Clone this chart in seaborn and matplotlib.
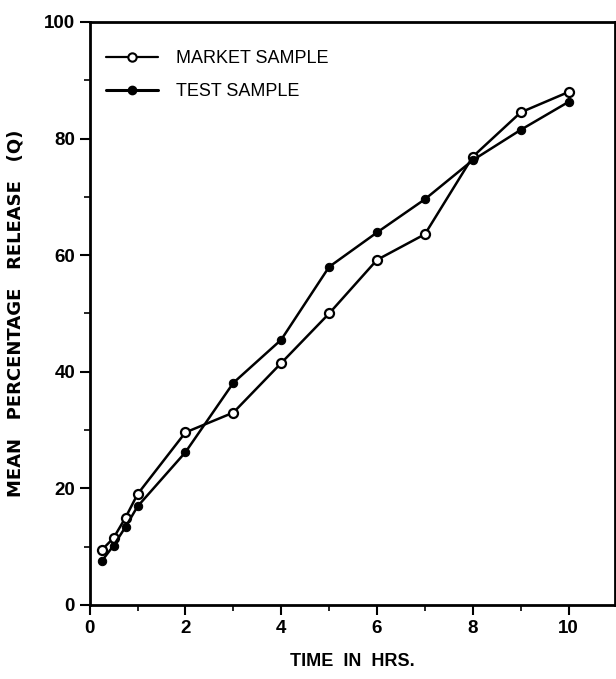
import numpy as np
import pandas as pd
import matplotlib
matplotlib.use("Agg")
import matplotlib.pyplot as plt
from matplotlib.lines import Line2D
from matplotlib.ticker import MultipleLocator
import seaborn as sns

# data
time_hrs = [0.25, 0.5, 0.75, 1, 2, 3, 4, 5, 6, 7, 8, 9, 10]
market_sample = [9.4, 11.5, 15.0, 19.0, 29.6, 33.0, 41.5, 50.0, 59.2, 63.6, 76.9, 84.5, 88.0]
test_sample = [7.5, 10.2, 13.4, 16.9, 26.2, 38.1, 45.5, 58.0, 63.9, 69.6, 76.3, 81.5, 86.3]

sns.set_style("ticks")
plt.rcParams["font.family"] = ["Liberation Sans Narrow", "Liberation Sans", "DejaVu Sans"]
plt.rcParams["text.color"] = "black"
plt.rcParams["axes.labelcolor"] = "black"

fig = plt.figure(figsize=(6.16, 6.79), dpi=100)
ax = fig.add_axes([0.1455, 0.109, 0.853, 0.8586])

sns.lineplot(x=time_hrs, y=market_sample, ax=ax, color="black", linewidth=1.8,
             marker="o", markersize=6.5, markerfacecolor="white",
             markeredgecolor="black", markeredgewidth=1.6)
sns.lineplot(x=time_hrs, y=test_sample, ax=ax, color="black", linewidth=1.8,
             marker="o", markersize=6, markerfacecolor="black",
             markeredgecolor="black")

ax.set_xlim(0, 10.97)
ax.set_ylim(0, 100)
ax.xaxis.set_major_locator(MultipleLocator(2))
ax.xaxis.set_minor_locator(MultipleLocator(1))
ax.yaxis.set_major_locator(MultipleLocator(20))
ax.yaxis.set_minor_locator(MultipleLocator(10))

for side in ["left", "bottom", "top", "right"]:
    ax.spines[side].set_linewidth(2)
    ax.spines[side].set_color("black")

ax.tick_params(which="major", direction="out", length=7, width=1.5,
               labelsize=13.5, colors="black", labelcolor="black")
ax.tick_params(which="minor", direction="out", length=4, width=1.2, colors="black")
ax.tick_params(axis="y", which="both", right=True, direction="out")
for lab in ax.get_xticklabels() + ax.get_yticklabels():
    lab.set_fontweight("bold")

ax.set_xlabel("TIME  IN  HRS.", fontsize=13, fontweight="bold", labelpad=12)
ax.set_ylabel("MEAN   PERCENTAGE   RELEASE   (Q)", fontsize=13,
              fontweight="bold", labelpad=14, family=["DejaVu Sans"])

handles = [
    Line2D([0], [0], color="black", linewidth=1.6, marker="o", markersize=6,
           markerfacecolor="white", markeredgewidth=1.5),
    Line2D([0], [0], color="black", linewidth=2.2, marker="o", markersize=6,
           markerfacecolor="black"),
]
leg = ax.legend(handles, ["MARKET SAMPLE", "TEST SAMPLE"], loc="upper left",
                bbox_to_anchor=(0.0, 0.98), frameon=False, fontsize=13,
                handlelength=2.9, handletextpad=1.0, labelspacing=0.9)
for t in leg.get_texts():
    t.set_color("black")

fig.savefig("out.png", dpi=100)
